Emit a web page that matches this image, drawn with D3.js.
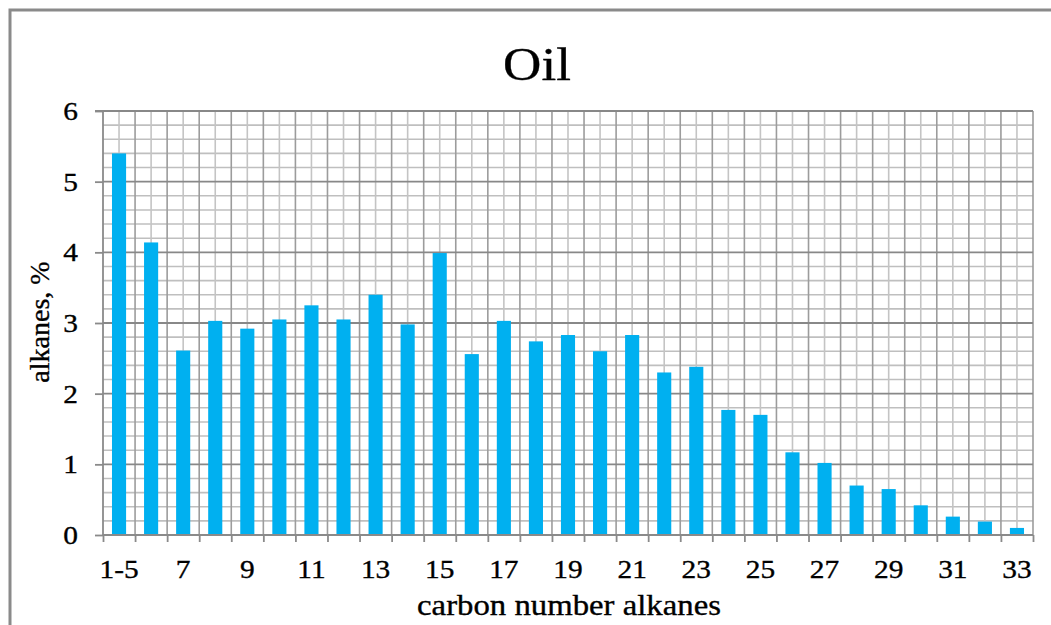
<!DOCTYPE html>
<html>
<head>
<meta charset="utf-8">
<script src="https://cdn.jsdelivr.net/npm/d3@7/dist/d3.min.js"></script>
<style>
  html, body { margin: 0; padding: 0; background: #fff; }
  svg { display: block; }
  text { font-family: "Liberation Serif", "Times New Roman", serif; fill: #000; stroke: #000; stroke-width: 0.35; }
</style>
</head>
<body>
<svg id="chart" width="1051" height="625"></svg>
<script>
const categories = ["1-5","6","7","8","9","10","11","12","13","14","15","16","17","18","19","20","21","22","23","24","25","26","27","28","29","30","31","32","33"];
const values = [5.40,4.14,2.61,3.03,2.92,3.05,3.25,3.05,3.40,2.98,3.99,2.56,3.03,2.74,2.83,2.60,2.83,2.30,2.38,1.77,1.70,1.17,1.02,0.70,0.65,0.42,0.26,0.19,0.10];
const xTickLabels = ["1-5","7","9","11","13","15","17","19","21","23","25","27","29","31","33"];
const yTicks = [0,1,2,3,4,5,6];
const titleText = "Oil";
const xTitle = "carbon number alkanes";
const yTitle = "alkanes, %";

const svg = d3.select("#chart");
const W = 1051, H = 625;
const m = {left: 103, right: 1033, top: 111, bottom: 535};
const SX = 1.13; // horizontal stretch of the original picture's text

const x = d3.scaleBand().domain(categories).range([m.left, m.right]).paddingInner(0.56).paddingOuter(0.28);
const y = d3.scaleLinear().domain([0, 6]).range([m.bottom, m.top]);
const step = x.step();
const x0 = x.range()[0];

// frame
svg.append("path")
  .attr("d", `M10,${H} L10,10 L${W},10`)
  .attr("fill", "none").attr("stroke", "#8a8a8a").attr("stroke-width", 3);

const grid = svg.append("g");
const minorY = d3.range(0, 30).map(i => i * 0.2).filter(v => Math.abs(v - Math.round(v)) > 1e-6);
grid.selectAll("line.hmin").data(minorY).join("line")
  .attr("x1", m.left).attr("x2", m.right)
  .attr("y1", d => y(d)).attr("y2", d => y(d))
  .attr("stroke", "#bfbfbf").attr("stroke-width", 1.6);
const halfIdx = d3.range(0, categories.length).map(i => i + 0.5);
grid.selectAll("line.vmin").data(halfIdx).join("line")
  .attr("x1", d => x0 + d * step).attr("x2", d => x0 + d * step)
  .attr("y1", m.top).attr("y2", m.bottom)
  .attr("stroke", "#c4c4c4").attr("stroke-width", 1.6);
const bIdx = d3.range(1, categories.length + 1);
grid.selectAll("line.vmaj").data(bIdx).join("line")
  .attr("x1", d => x0 + d * step).attr("x2", d => x0 + d * step)
  .attr("y1", m.top).attr("y2", m.bottom)
  .attr("stroke", "#9c9c9c").attr("stroke-width", 1.6);
grid.selectAll("line.hmaj").data(yTicks.slice(1)).join("line")
  .attr("x1", m.left).attr("x2", m.right)
  .attr("y1", d => y(d)).attr("y2", d => y(d))
  .attr("stroke", "#888").attr("stroke-width", 1.8);

// bars
svg.append("g").selectAll("rect").data(values).join("rect")
  .attr("x", (d, i) => x(categories[i]))
  .attr("width", x.bandwidth())
  .attr("y", d => y(d))
  .attr("height", d => y(0) - y(d))
  .attr("fill", "#00B0F0");

// axes
const yAxis = d3.axisLeft(y).tickValues(yTicks).tickSize(8).tickFormat("");
const gy = svg.append("g").attr("transform", `translate(${m.left},0)`).call(yAxis);
gy.selectAll("path, line").attr("stroke", "#8a8a8a").attr("stroke-width", 1.8);
gy.select(".domain").attr("d", `M-8,${y(6)}H0V${y(0)}`);

const xb = d3.scaleLinear().domain([0, categories.length]).range([m.left, m.right]);
const xAxis = d3.axisBottom(xb).tickValues(d3.range(0, categories.length + 1)).tickSize(7).tickFormat("");
const gx = svg.append("g").attr("transform", `translate(0,${m.bottom})`).call(xAxis);
gx.selectAll("path, line").attr("stroke", "#8a8a8a").attr("stroke-width", 1.8);
gx.select(".domain").attr("d", `M${m.left},0H${m.right}`);

// y tick labels
svg.append("g").selectAll("text").data(yTicks).join("text")
  .attr("transform", d => `translate(78,${y(d) + 9}) scale(${SX},1)`)
  .attr("text-anchor", "end").attr("font-size", 26)
  .text(d => d);

// x tick labels
svg.append("g").selectAll("text").data(xTickLabels).join("text")
  .attr("transform", d => `translate(${x(d) + x.bandwidth() / 2},578) scale(${SX},1)`)
  .attr("text-anchor", "middle").attr("font-size", 26)
  .text(d => d);

// titles
svg.append("text")
  .attr("transform", `translate(537,80) scale(${SX},1)`)
  .attr("text-anchor", "middle").attr("font-size", 47)
  .text(titleText);

svg.append("text")
  .attr("transform", `translate(569,615) scale(${SX},1)`)
  .attr("text-anchor", "middle").attr("font-size", 29)
  .text(xTitle);

svg.append("text")
  .attr("transform", `translate(49,322) rotate(-90)`)
  .attr("text-anchor", "middle").attr("font-size", 28)
  .text(yTitle);
</script>
</body>
</html>
